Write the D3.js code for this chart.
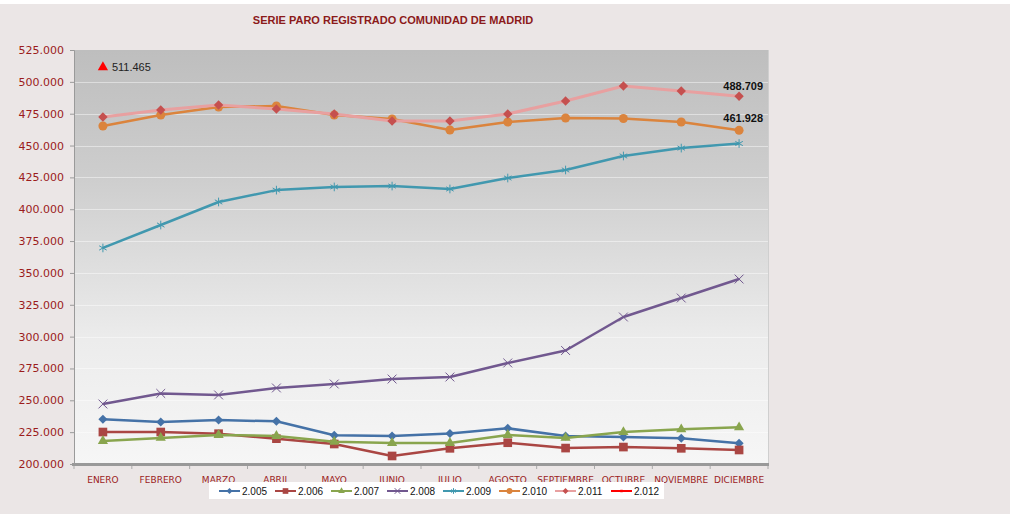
<!DOCTYPE html>
<html>
<head>
<meta charset="utf-8">
<script src="https://cdn.jsdelivr.net/npm/d3@7"></script>
<style>
  body { margin: 0; background: #ffffff; }
  svg text { font-family: "DejaVu Sans", Verdana, sans-serif; }
</style>
</head>
<body>
<div id="content"></div>
<script>
// chart data
var months = ["ENERO", "FEBRERO", "MARZO", "ABRIL", "MAYO", "JUNIO", "JULIO",
  "AGOSTO", "SEPTIEMBRE", "OCTUBRE", "NOVIEMBRE", "DICIEMBRE"];
var years = ["2.005", "2.006", "2.007", "2.008", "2.009", "2.010", "2.011", "2.012"];
var yTicks = [200000, 225000, 250000, 275000, 300000, 325000, 350000, 375000,
  400000, 425000, 450000, 475000, 500000, 525000];

var s2005 = [235100, 233000, 234500, 233500, 222500, 222000, 224000, 228000, 222000, 221200, 220200, 216200];
var s2006 = [225100, 225100, 223800, 219900, 215700, 206300, 212300, 216700, 212500, 213300, 212300, 211000];
var s2007 = [218100, 220500, 222800, 222000, 217500, 216500, 216500, 222800, 220500, 225100, 227200, 228800];
var s2008 = [247100, 255400, 254200, 259700, 262800, 266700, 268300, 279300, 289100, 315400, 330300, 345200];
var s2009 = [369600, 387600, 405700, 415000, 417500, 418200, 415900, 424500, 430800, 441800, 448000, 451600];
var s2010 = [465300, 474000, 480300, 481000, 474000, 470800, 462200, 468500, 471600, 471200, 468500, 461928];
var s2011 = [472400, 477900, 481800, 478700, 474800, 469300, 469300, 474800, 485000, 496700, 492800, 488709];
var s2012 = [511465];

var seriesValues = [s2005, s2006, s2007, s2008, s2009, s2010, s2011, s2012];
var lineColors = ["#4572a7", "#aa4643", "#89a54e", "#71588f", "#4198af", "#db843d", "#e8a0a0", "#ff0000"];
var markColors = ["#4572a7", "#aa4643", "#89a54e", "#71588f", "#4198af", "#db843d", "#c5504f", "#ff0000"];
var markShapes = ["diamond", "square", "triangle", "cross", "star", "circle", "diamond", "triangle"];

var W = 1018, H = 514;
var margin = {top: 50, right: 250, bottom: 50, left: 74},
  width = 768 - margin.left,
  height = 464 - margin.top;

var svg = d3.select("#content").append("svg")
  .attr("width", W)
  .attr("height", H);

// outer panel
svg.append("rect")
  .attr("x", 0).attr("y", 4)
  .attr("width", 1010).attr("height", H - 4)
  .attr("fill", "#ebe6e6");

var defs = svg.append("defs");
var grad = defs.append("linearGradient")
  .attr("id", "plotbg")
  .attr("x1", 0).attr("y1", 0).attr("x2", 0).attr("y2", 1);
grad.append("stop").attr("offset", "0%").attr("stop-color", "#bebebe");
grad.append("stop").attr("offset", "30%").attr("stop-color", "#cdcdcd");
grad.append("stop").attr("offset", "70%").attr("stop-color", "#ececec");
grad.append("stop").attr("offset", "100%").attr("stop-color", "#f6f6f6");

// title
svg.append("text")
  .attr("x", 393).attr("y", 24)
  .attr("text-anchor", "middle")
  .style("font-family", "Arial, 'Liberation Sans', sans-serif")
  .style("font-size", "11px")
  .style("font-weight", "bold")
  .attr("fill", "#8b1a1a")
  .text("SERIE PARO REGISTRADO COMUNIDAD DE MADRID");

var g = svg.append("g")
  .attr("transform", "translate(" + margin.left + "," + margin.top + ")");

var x = d3.scaleBand().domain(months).range([0, width]);
var y = d3.scaleLinear().domain([200000, 525000]).range([height, 0]);

g.append("rect")
  .attr("width", width).attr("height", height)
  .attr("fill", "url(#plotbg)");

// gridlines
g.selectAll(".grid")
  .data(yTicks.filter(function(d) { return d > 200000 && d < 525000; }))
  .enter().append("line")
  .attr("x1", 0).attr("x2", width)
  .attr("y1", function(d) { return Math.round(y(d)) + 0.5; })
  .attr("y2", function(d) { return Math.round(y(d)) + 0.5; })
  .attr("stroke", "#ffffff")
  .attr("stroke-opacity", 0.45)
  .attr("stroke-width", 1);

// right border
g.append("line")
  .attr("x1", width + 0.5).attr("x2", width + 0.5)
  .attr("y1", 0).attr("y2", height)
  .attr("stroke", "#cfcfcf");

// y axis
var fmt = function(d) { return d3.format(",.0f")(d / 1000).replace(",", ".") + ".000"; };
var yAxis = g.append("g")
  .call(d3.axisLeft(y).tickValues(yTicks).tickSize(4).tickFormat(fmt));
yAxis.select(".domain").attr("stroke", "#9a9a9a");
yAxis.selectAll(".tick line").attr("stroke", "#9a9a9a");
yAxis.selectAll("text")
  .attr("x", -10)
  .style("font-size", "11px")
  .attr("fill", "#9b1c1c");

// x axis
var xAxis = g.append("g")
  .attr("transform", "translate(0," + height + ")")
  .call(d3.axisBottom(x).tickSize(0).tickPadding(13));
xAxis.select(".domain").remove();
xAxis.selectAll("text")
  .style("font-size", "9px")
  .attr("fill", "#9b1c1c");
g.append("line")
  .attr("x1", -2).attr("x2", width + 1)
  .attr("y1", height + 0.5).attr("y2", height + 0.5)
  .attr("stroke", "#999999")
  .attr("stroke-width", 3);
g.selectAll(".xtick")
  .data(d3.range(months.length + 1))
  .enter().append("line")
  .attr("x1", function(i) { return i * x.bandwidth(); })
  .attr("x2", function(i) { return i * x.bandwidth(); })
  .attr("y1", height + 2).attr("y2", height + 5)
  .attr("stroke", "#aaaaaa");

function symbolPath(shape, size) {
  if (shape === "diamond") return d3.symbol().type(d3.symbolSquare).size(size * 0.55)();
  if (shape === "square") return d3.symbol().type(d3.symbolSquare).size(size)();
  if (shape === "triangle") return d3.symbol().type(d3.symbolTriangle).size(size * 0.6)();
  if (shape === "circle") return d3.symbol().type(d3.symbolCircle).size(size * 0.85)();
  if (shape === "cross") return d3.symbol().type(d3.symbolX).size(size * 0.7)();
  return d3.symbol().type(d3.symbolAsterisk).size(size * 0.7)();
}

var valueline = d3.line()
  .x(function(d, i) { return x(months[i]) + x.bandwidth() / 2; })
  .y(function(d) { return y(d); });

// lines + markers, oldest first
seriesValues.forEach(function(vals, k) {
  if (vals.length > 1) {
    g.append("path")
      .datum(vals)
      .attr("fill", "none")
      .attr("stroke", lineColors[k])
      .attr("stroke-width", k === 6 ? 3 : 2.5)
      .attr("stroke-linejoin", "round")
      .attr("d", valueline);
  }
  var open = markShapes[k] === "cross" || markShapes[k] === "star";
  var rot = markShapes[k] === "diamond" ? " rotate(45)" : "";
  g.selectAll(".m" + k)
    .data(vals)
    .enter().append("path")
    .attr("transform", function(d, i) {
      return "translate(" + (x(months[i]) + x.bandwidth() / 2) + "," + y(d) + ")" + rot;
    })
    .attr("d", symbolPath(markShapes[k], k === 6 ? 80 : 75))
    .attr("fill", open ? "none" : markColors[k])
    .attr("stroke", open ? markColors[k] : "none")
    .attr("stroke-width", 1);
});

// data labels
var lastX = x(months[11]) + x.bandwidth() / 2;
g.append("text")
  .attr("x", x(months[0]) + x.bandwidth() / 2 + 9)
  .attr("y", y(s2012[0]) + 4)
  .style("font-family", "Arial, 'Liberation Sans', sans-serif")
  .style("font-size", "11px")
  .attr("fill", "#222")
  .text("511.465");
g.append("text")
  .attr("x", lastX + 24).attr("y", y(s2011[11]) - 6)
  .attr("text-anchor", "end")
  .style("font-family", "Arial, 'Liberation Sans', sans-serif")
  .style("font-size", "11px").style("font-weight", "bold")
  .attr("fill", "#111")
  .text("488.709");
g.append("text")
  .attr("x", lastX + 24).attr("y", y(s2010[11]) - 8)
  .attr("text-anchor", "end")
  .style("font-family", "Arial, 'Liberation Sans', sans-serif")
  .style("font-size", "11px").style("font-weight", "bold")
  .attr("fill", "#111")
  .text("461.928");

// legend
var legend = svg.append("g").attr("transform", "translate(209,482)");
legend.append("rect")
  .attr("width", 455).attr("height", 17)
  .attr("fill", "#ffffff");
var itemX = [10, 66, 122, 178, 234, 290, 346, 402];
years.forEach(function(yr, k) {
  var it = legend.append("g").attr("transform", "translate(" + itemX[k] + ",9)");
  it.append("line")
    .attr("x1", 0).attr("x2", 21)
    .attr("stroke", lineColors[k])
    .attr("stroke-width", 2);
  var open = markShapes[k] === "cross" || markShapes[k] === "star";
  var rot = markShapes[k] === "diamond" ? " rotate(45)" : "";
  it.append("path")
    .attr("transform", "translate(10.5,0)" + rot)
    .attr("d", k === 7 ? d3.symbol().type(d3.symbolSquare).size(6)()
      : symbolPath(markShapes[k], 32))
    .attr("fill", open ? "none" : markColors[k])
    .attr("stroke", open ? markColors[k] : "none");
  it.append("text")
    .attr("x", 23).attr("y", 4)
    .style("font-family", "Arial, 'Liberation Sans', sans-serif")
    .style("font-size", "10px")
    .attr("fill", "#111")
    .text(yr);
});
</script>
</body>
</html>
